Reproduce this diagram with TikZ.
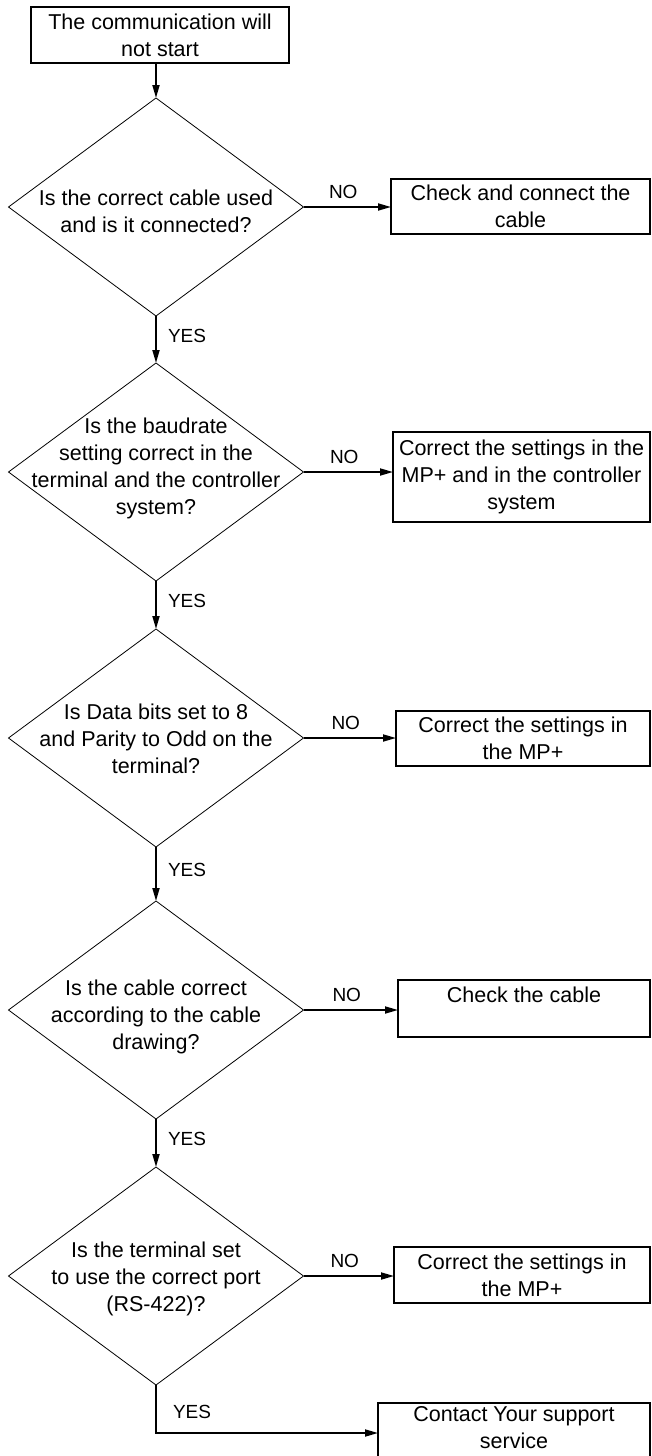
\documentclass[tikz,border=0pt]{standalone}
\usepackage{fontspec}
\setmainfont{Liberation Sans}
\usetikzlibrary{shapes.geometric,arrows.meta}
\begin{document}
\begin{tikzpicture}[x=1pt,y=-1pt,
  every node/.style={inner sep=0pt, outer sep=0pt},
  txt/.style={font=\fontsize{21.5}{27}\selectfont, align=center},
  lbl/.style={font=\fontsize{19}{21}\selectfont},
  dia/.style={draw, diamond, minimum width=295pt, minimum height=218pt, line width=0.8pt},
  box/.style={draw, rectangle, line width=1.8pt, txt},
  arr/.style={line width=1.8pt, -{Triangle[length=13pt,width=7pt]}},
  yes/.style={lbl, right=12pt, pos=0.42},
  no/.style={lbl, above=8pt, midway, xshift=-4pt}
]
\useasboundingbox (0,0) rectangle (651,1456);

% start
\node[box, minimum width=258pt, minimum height=56pt] (top) at (160,35) {The communication will\\not start};

% decisions
\node[dia] (d1) at (156,207) {};
\node[txt] (d1t) at (156,211) {Is the correct cable used\\and is it connected?};
\node[dia] (d2) at (156,472) {};
\node[txt] (d2t) at (156,468) {Is the baudrate\\setting correct in the\\terminal and the controller\\system?};
\node[dia] (d3) at (156,738) {};
\node[txt] (d3t) at (156,739) {Is Data bits set to 8\\and Parity to Odd on the\\terminal?};
\node[dia] (d4) at (156,1010) {};
\node[txt] (d4t) at (156,1017) {Is the cable correct\\according to the cable\\drawing?};
\node[dia] (d5) at (156,1276) {};
\node[txt] (d5t) at (156,1279) {Is the terminal set\\to use the correct port\\(RS-422)?};

% action boxes
\node[box, minimum width=259pt, minimum height=55pt] (b1) at (520.5,206.5) {Check and connect the\\cable};
\node[box, minimum width=257pt, minimum height=90pt] (b2) at (521.5,477) {Correct the settings in the\\MP+ and in the controller\\system};
\node[box, minimum width=254pt, minimum height=55pt] (b3) at (523,738.5) {Correct the settings in\\the MP+};
\node[box, minimum width=252pt, minimum height=57pt] (b4) at (524,1008.5) {Check the cable\\\mbox{}};
\node[box, minimum width=256pt, minimum height=56pt] (b5) at (522,1275) {Correct the settings in\\the MP+};
\node[draw, rectangle, line width=1.8pt, minimum width=272pt, minimum height=60pt, anchor=north west] (b6) at (378,1403) {};
\node[txt] (b6t) at (514,1428) {Contact Your support\\service};
\coordinate (b6in) at (378,1433);

% connectors
\draw[arr] (top.south -| d1.north) -- (d1.north);
\draw[arr] (d1.south) -- node[yes]{YES} (d2.north);
\draw[arr] (d2.south) -- node[yes]{YES} (d3.north);
\draw[arr] (d3.south) -- node[yes]{YES} (d4.north);
\draw[arr] (d4.south) -- node[yes]{YES} (d5.north);
\draw[arr] (d5.south) |- (b6in);
\node[lbl, anchor=west] (y5) at (173,1412) {YES};

\draw[arr] (d1.east) -- node[no]{NO} (d1.east -| b1.west);
\draw[arr] (d2.east) -- node[no]{NO} (d2.east -| b2.west);
\draw[arr] (d3.east) -- node[no]{NO} (d3.east -| b3.west);
\draw[arr] (d4.east) -- node[no]{NO} (d4.east -| b4.west);
\draw[arr] (d5.east) -- node[no]{NO} (d5.east -| b5.west);
\end{tikzpicture}
\end{document}
